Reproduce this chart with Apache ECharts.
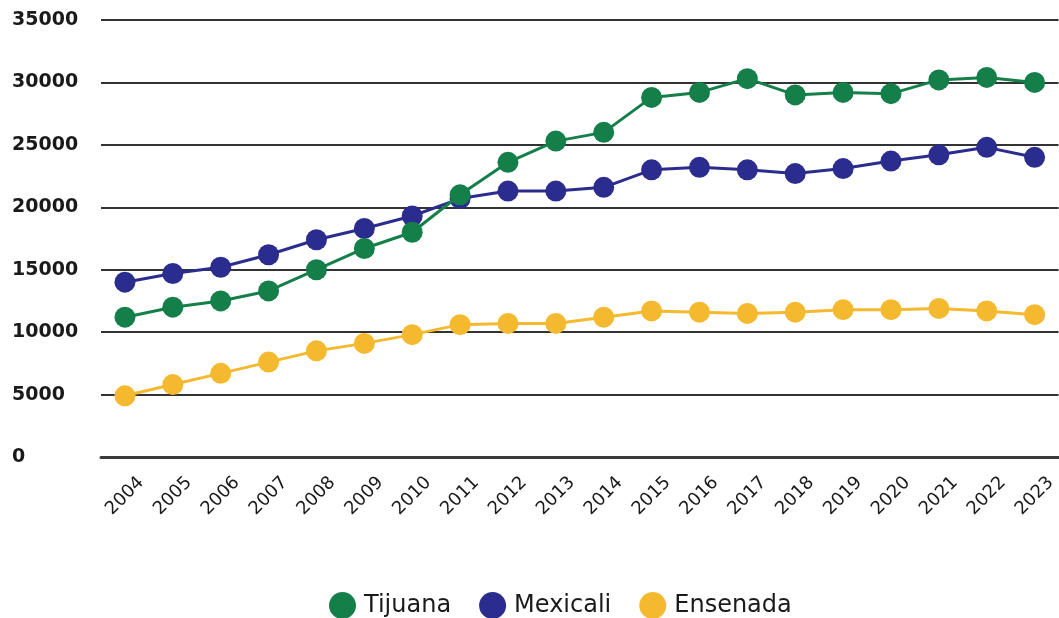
<!DOCTYPE html>
<html>
<head>
<meta charset="utf-8">
<script src="https://cdn.jsdelivr.net/npm/echarts@6/dist/echarts.min.js"></script>
<style>
  html, body { margin: 0; padding: 0; background: #ffffff; }
  #chart { width: 1059px; height: 618px; }
</style>
</head>
<body>
<div id="chart"></div>
<script>
const years = ['2004','2005','2006','2007','2008','2009','2010','2011','2012','2013','2014','2015','2016','2017','2018','2019','2020','2021','2022','2023'];
const tijuana  = [11200,12000,12500,13300,15000,16700,18000,21000,23600,25300,26000,28800,29200,30300,29000,29200,29100,30200,30400,30000];
const mexicali = [14000,14700,15200,16200,17400,18300,19300,20700,21300,21300,21600,23000,23200,23000,22700,23100,23700,24200,24800,24000];
const ensenada = [4900,5800,6700,7600,8500,9100,9800,10600,10700,10700,11200,11700,11600,11500,11600,11800,11800,11900,11700,11400];
const yTicks = [0,5000,10000,15000,20000,25000,30000,35000];

const chart = echarts.init(document.getElementById('chart'));
const mk = (name, data, color, z) => ({
  name, type: 'line', data, z,
  symbol: 'circle', symbolSize: 21,
  lineStyle: { color, width: 3 },
  itemStyle: { color },
  emphasis: { disabled: true }
});
chart.setOption({
  animation: false,
  backgroundColor: '#ffffff',
  grid: { left: 101, right: -11, top: 20, bottom: 161 },
  xAxis: {
    type: 'category', data: years, boundaryGap: true,
    axisLine: { show: true, lineStyle: { color: '#3a3a3a', width: 3 } },
    axisTick: { show: false },
    axisLabel: { rotate: 45, margin: 39, align: 'center', verticalAlign: 'middle',
                 color: '#1a1a1a', fontSize: 18, fontFamily: 'DejaVu Sans' }
  },
  yAxis: {
    type: 'value', min: yTicks[0], max: yTicks[yTicks.length-1], interval: 5000,
    axisLine: { show: false }, axisTick: { show: false },
    axisLabel: { color: '#1a1a1a', fontSize: 19, fontWeight: 'bold', fontFamily: 'DejaVu Sans', align: 'left', margin: 89,
                 formatter: v => String(v) },
    splitLine: { lineStyle: { color: '#333333', width: 2 } }
  },
  legend: {
    bottom: -6, left: 324,
    icon: 'circle', itemWidth: 27, itemHeight: 27, itemGap: 28,
    textStyle: { color: '#1a1a1a', fontSize: 24, fontFamily: 'DejaVu Sans', padding: [0, 0, 0, 3] },
    data: ['Tijuana','Mexicali','Ensenada']
  },
  series: [
    mk('Ensenada', ensenada, '#f4b92e', 2),
    mk('Mexicali', mexicali, '#2b2d8e', 3),
    mk('Tijuana', tijuana, '#157f4a', 4)
  ]
});
</script>
</body>
</html>
